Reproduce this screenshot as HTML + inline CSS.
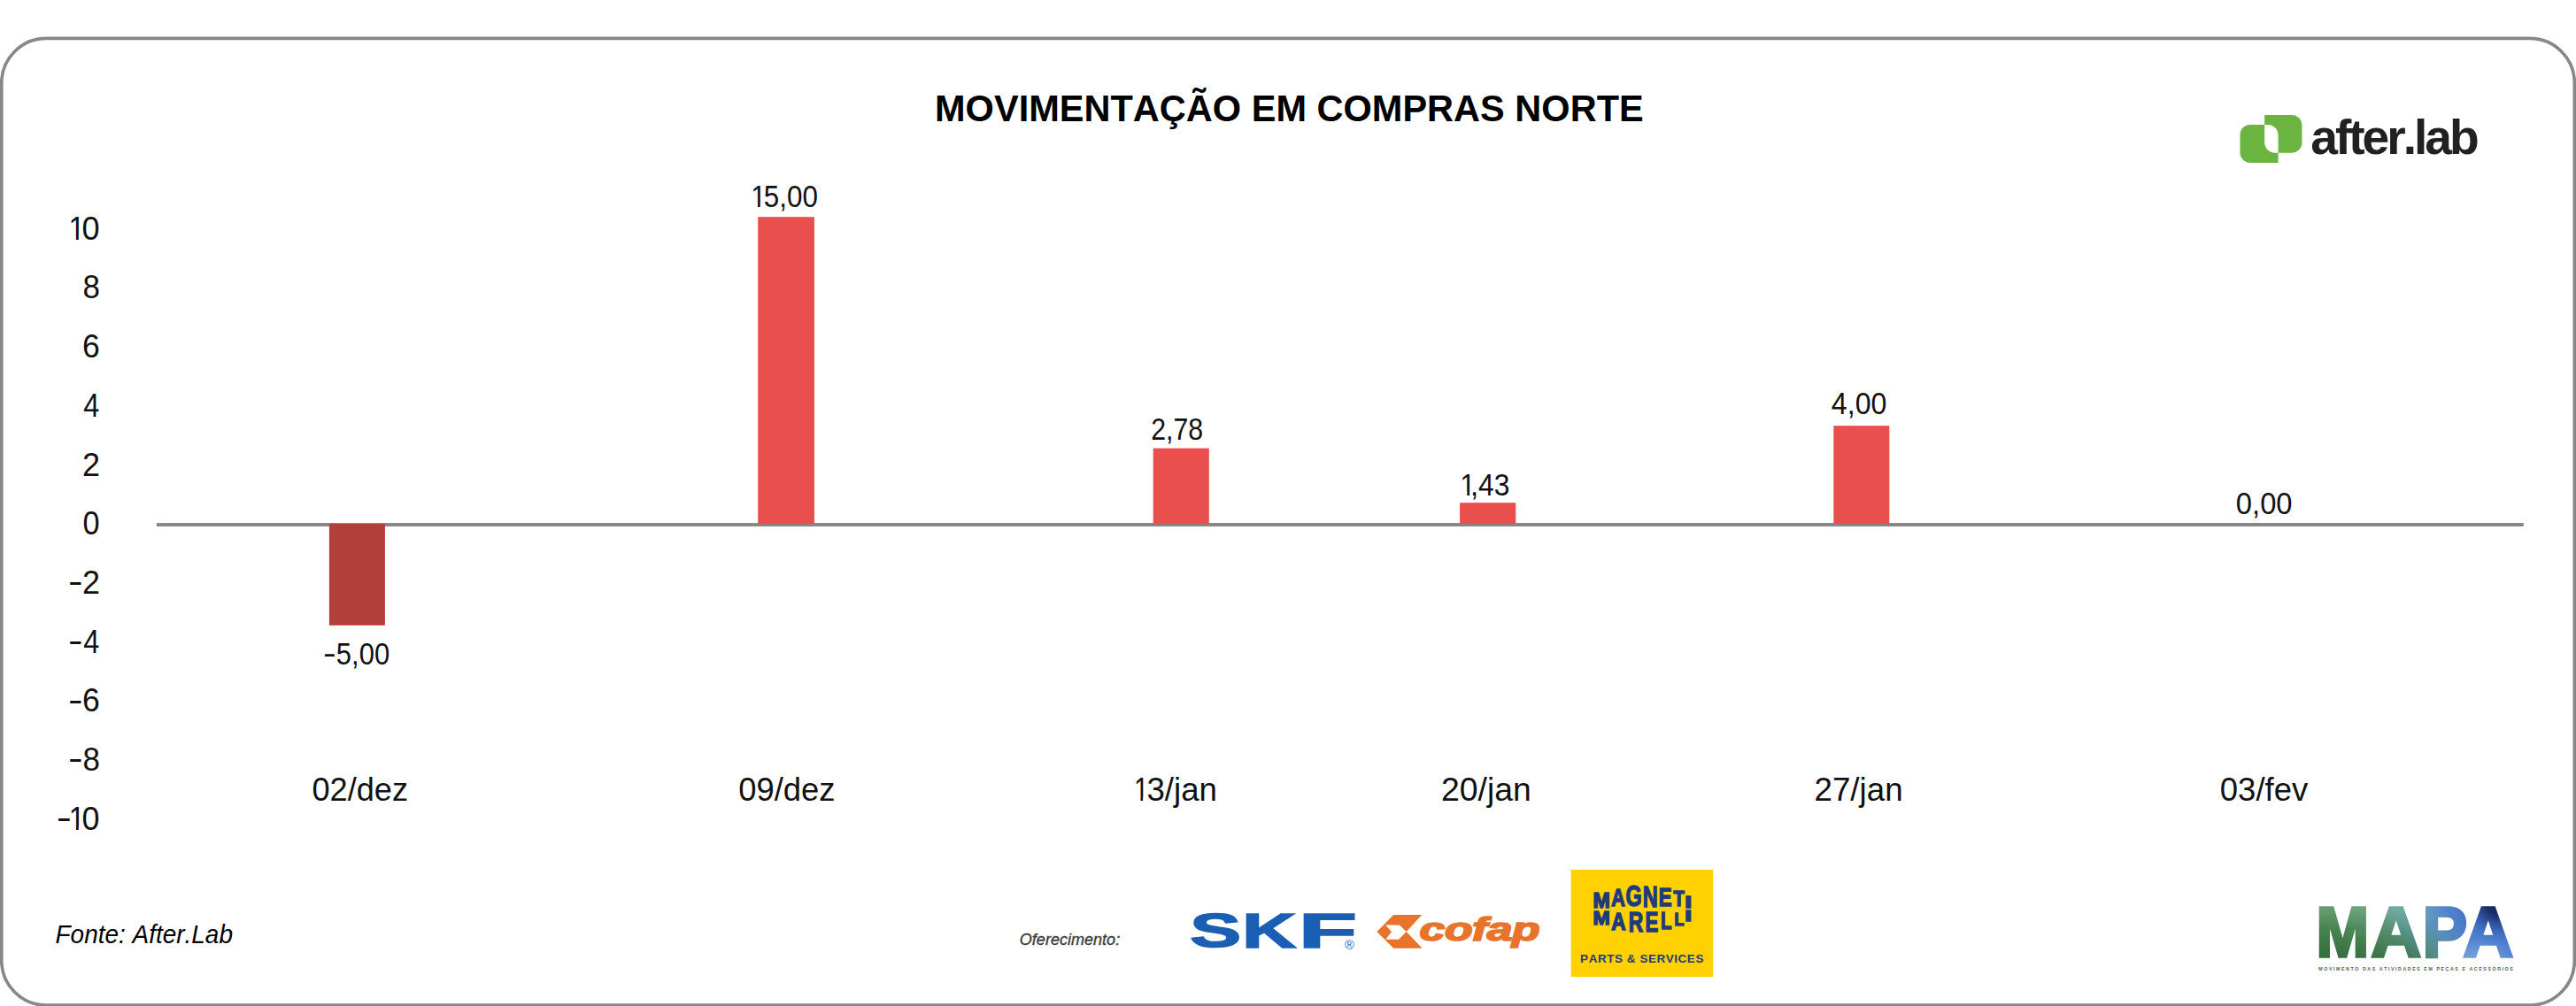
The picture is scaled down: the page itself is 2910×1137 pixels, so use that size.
<!DOCTYPE html>
<html lang="pt-BR">
<head>
<meta charset="utf-8">
<title>Movimentação em Compras Norte</title>
<style>
html,body{margin:0;padding:0;background:#fff;}
body{width:2910px;height:1137px;overflow:hidden;}
svg{display:block;}
svg text{font-family:"Liberation Sans",sans-serif;font-kerning:none;white-space:pre;}
</style>
</head>
<body>
<svg width="2910" height="1137" viewBox="0 0 2910 1137">

<rect x="1.75" y="43.4" width="2906.6" height="1092.7" rx="50.5" ry="50.5" fill="#fff" stroke="#878787" stroke-width="3.7"/>
<text transform="translate(1056.02 136.70) scale(0.9754 1)" font-size="42.60" font-weight="bold" font-style="normal" fill="#000">MOVIMENTAÇÃO EM COMPRAS NORTE</text>
<text font-size="37.10" fill="#111"><tspan x="77.50" y="270.80" textLength="18.49" lengthAdjust="spacingAndGlyphs">1</tspan><tspan x="92.59" y="270.80" textLength="20.13" lengthAdjust="spacingAndGlyphs">0</tspan></text><rect x="79.43" y="267.33" width="6.43" height="4.17" fill="#fff"/><rect x="88.80" y="267.33" width="6.20" height="4.17" fill="#fff"/>
<text font-size="37.10" fill="#111"><tspan x="93.38" y="337.48" textLength="19.44" lengthAdjust="spacingAndGlyphs">8</tspan></text>
<text font-size="37.10" fill="#111"><tspan x="93.10" y="404.16" textLength="19.77" lengthAdjust="spacingAndGlyphs">6</tspan></text>
<text font-size="37.10" fill="#111"><tspan x="94.15" y="470.84" textLength="18.10" lengthAdjust="spacingAndGlyphs">4</tspan></text>
<text font-size="37.10" fill="#111"><tspan x="93.09" y="537.52" textLength="20.02" lengthAdjust="spacingAndGlyphs">2</tspan></text>
<text font-size="37.10" fill="#111"><tspan x="93.56" y="604.20" textLength="19.08" lengthAdjust="spacingAndGlyphs">0</tspan></text>
<text font-size="37.10" fill="#111"><tspan x="76.98" y="669.38" textLength="16.64" lengthAdjust="spacingAndGlyphs">-</tspan><tspan x="93.09" y="670.88" textLength="20.02" lengthAdjust="spacingAndGlyphs">2</tspan></text>
<text font-size="37.10" fill="#111"><tspan x="76.98" y="736.06" textLength="16.64" lengthAdjust="spacingAndGlyphs">-</tspan><tspan x="94.15" y="737.56" textLength="18.10" lengthAdjust="spacingAndGlyphs">4</tspan></text>
<text font-size="37.10" fill="#111"><tspan x="76.98" y="802.74" textLength="16.64" lengthAdjust="spacingAndGlyphs">-</tspan><tspan x="93.10" y="804.24" textLength="19.77" lengthAdjust="spacingAndGlyphs">6</tspan></text>
<text font-size="37.10" fill="#111"><tspan x="76.98" y="869.42" textLength="16.64" lengthAdjust="spacingAndGlyphs">-</tspan><tspan x="93.38" y="870.92" textLength="19.44" lengthAdjust="spacingAndGlyphs">8</tspan></text>
<text font-size="37.10" fill="#111"><tspan x="63.71" y="936.10" textLength="17.19" lengthAdjust="spacingAndGlyphs">-</tspan><tspan x="77.64" y="937.60" textLength="18.26" lengthAdjust="spacingAndGlyphs">1</tspan><tspan x="92.59" y="937.60" textLength="20.01" lengthAdjust="spacingAndGlyphs">0</tspan></text><rect x="79.54" y="934.13" width="6.36" height="4.17" fill="#fff"/><rect x="88.80" y="934.13" width="6.20" height="4.17" fill="#fff"/>
<rect x="176.9" y="591.05" width="2673.9" height="3.95" fill="#878787"/>
<rect x="371.9" y="592" width="63" height="114.8" fill="#B33F3B"/>
<rect x="856.20" y="245.20" width="63.75" height="347.00" fill="#E9504D"/>
<rect x="1302.70" y="506.60" width="63.10" height="85.60" fill="#E9504D"/>
<rect x="1649.10" y="568.20" width="63.20" height="24.00" fill="#E9504D"/>
<rect x="2071.30" y="481.20" width="63.00" height="111.00" fill="#E9504D"/>
<text font-size="34.50" fill="#111"><tspan x="365.03" y="749.50" textLength="14.73" lengthAdjust="spacingAndGlyphs">-</tspan><tspan x="379.86" y="750.80" textLength="60.35" lengthAdjust="spacingAndGlyphs">5,00</tspan></text>
<text font-size="34.50" fill="#111"><tspan x="848.24" y="234.00" textLength="17.12" lengthAdjust="spacingAndGlyphs">1</tspan><tspan x="862.84" y="234.00" textLength="61.19" lengthAdjust="spacingAndGlyphs">5,00</tspan></text><rect x="849.98" y="230.72" width="6.00" height="3.98" fill="#fff"/><rect x="858.70" y="230.72" width="5.76" height="3.98" fill="#fff"/>
<text transform="translate(1300.18 497.40) scale(0.8778 1)" font-size="34.50" font-weight="normal" font-style="normal" fill="#111">2,78</text>
<text font-size="34.50" fill="#111"><tspan x="1649.36" y="559.60" textLength="17.58" lengthAdjust="spacingAndGlyphs">1</tspan><tspan x="1661.24" y="559.60" textLength="44.26" lengthAdjust="spacingAndGlyphs">,43</tspan></text><rect x="1651.17" y="556.32" width="6.14" height="3.98" fill="#fff"/><rect x="1660.10" y="556.32" width="3.80" height="3.98" fill="#fff"/>
<text transform="translate(2068.86 468.30) scale(0.9322 1)" font-size="34.50" font-weight="normal" font-style="normal" fill="#111">4,00</text>
<text transform="translate(2525.82 580.50) scale(0.9495 1)" font-size="34.50" font-weight="normal" font-style="normal" fill="#111">0,00</text>
<text transform="translate(352.49 904.90) scale(0.9751 1)" font-size="37.10" font-weight="normal" font-style="normal" fill="#111">02/dez</text>
<text transform="translate(834.18 904.90) scale(0.9816 1)" font-size="37.10" font-weight="normal" font-style="normal" fill="#111">09/dez</text>
<text font-size="37.10" fill="#111"><tspan x="1280.92" y="904.90" textLength="16.66" lengthAdjust="spacingAndGlyphs">1</tspan><tspan x="1295.40" y="904.90" textLength="79.58" lengthAdjust="spacingAndGlyphs">3/jan</tspan></text><rect x="1282.60" y="901.43" width="5.85" height="4.17" fill="#fff"/><rect x="1291.10" y="901.43" width="5.62" height="4.17" fill="#fff"/>
<text transform="translate(1627.92 904.90) scale(1.0082 1)" font-size="37.10" font-weight="normal" font-style="normal" fill="#111">20/jan</text>
<text transform="translate(2049.55 904.90) scale(0.9896 1)" font-size="37.10" font-weight="normal" font-style="normal" fill="#111">27/jan</text>
<text transform="translate(2507.77 904.90) scale(0.9850 1)" font-size="37.10" font-weight="normal" font-style="normal" fill="#111">03/fev</text>
<text transform="translate(62.54 1066.20) scale(0.9642 1)" font-size="29.00" font-weight="normal" font-style="italic" fill="#000">Fonte: After.Lab</text>
<path d="M2558.2 129.9H2588.9A11.5 11.5 0 0 1 2600.4 141.4V161.2A11.5 11.5 0 0 1 2588.9 172.7H2558.2Z" fill="#6AB43F"/>
<path d="M2573.6 183.9H2542.0A11.5 11.5 0 0 1 2530.5 172.4V152.5A11.5 11.5 0 0 1 2542.0 141H2573.6Z" fill="#6AB43F"/>
<path d="M2558.2 141H2562A11.6 11.6 0 0 1 2573.6 152.6V172.7H2569.8A11.6 11.6 0 0 1 2558.2 161.1Z" fill="#fff"/>
<text transform="translate(2610.28 174.00) scale(1.0033 1)" font-size="55.00" font-weight="bold" font-style="normal" fill="#212121" letter-spacing="-3.025">after.lab</text>
<text transform="translate(1151.82 1068.10) scale(0.9813 1)" font-size="18.40" font-weight="normal" font-style="italic" fill="#3c3c3c" stroke="#3c3c3c" stroke-width="0.35">Oferecimento:</text>
<text font-weight="bold" font-style="normal" fill="#1A5FB4" stroke="#1A5FB4" stroke-width="1.6" stroke-linejoin="miter"><tspan x="1344.36" y="1070.34" font-size="53.59" textLength="57.83" lengthAdjust="spacingAndGlyphs">S</tspan><tspan x="1403.29" y="1070.87" font-size="55.14" textLength="60.93" lengthAdjust="spacingAndGlyphs">K</tspan><tspan x="1467.05" y="1070.87" font-size="55.14" textLength="65.94" lengthAdjust="spacingAndGlyphs">F</tspan></text>
<text x="1518.98" y="1072.79" font-size="14.45" fill="#1A5FB4">®</text>
<path d="M1555.4 1052.9L1574.2 1034.1H1606.2L1588.7 1052.9L1606.6 1071.7H1574.2Z" fill="#E8732B"/>
<path d="M1565.2 1045.4H1581L1588.7 1052.9L1580.1 1061.8H1565.2L1572 1053.3Z" fill="#fff"/>
<text transform="translate(1603.61 1063.00) scale(1.4308 1)" font-size="36.20" font-weight="bold" font-style="italic" fill="#E8732B" letter-spacing="-0.362" stroke="#E8732B" stroke-width="1.7">cofap</text>
<rect x="1774.7" y="983" width="160.5" height="121" fill="#FFD100"/>
<text font-weight="bold" font-style="normal" fill="#1F3B7E" stroke="#1F3B7E" stroke-width="1.5" stroke-linejoin="miter"><tspan x="1799.53" y="1026.08" font-size="23.28" textLength="19.24" lengthAdjust="spacingAndGlyphs">M</tspan><tspan x="1820.18" y="1024.02" font-size="28.02" textLength="15.59" lengthAdjust="spacingAndGlyphs">A</tspan><tspan x="1836.41" y="1024.43" font-size="32.97" textLength="18.23" lengthAdjust="spacingAndGlyphs">G</tspan><tspan x="1855.78" y="1024.55" font-size="32.67" textLength="16.97" lengthAdjust="spacingAndGlyphs">N</tspan><tspan x="1873.84" y="1024.22" font-size="29.28" textLength="14.84" lengthAdjust="spacingAndGlyphs">E</tspan><tspan x="1890.42" y="1023.89" font-size="23.47" textLength="12.26" lengthAdjust="spacingAndGlyphs">T</tspan><tspan x="1903.52" y="1025.89" font-size="17.66" textLength="7.38" lengthAdjust="spacingAndGlyphs">I</tspan></text>
<text font-weight="bold" font-style="normal" fill="#1F3B7E" stroke="#1F3B7E" stroke-width="1.5" stroke-linejoin="miter"><tspan x="1799.53" y="1044.87" font-size="22.50" textLength="19.24" lengthAdjust="spacingAndGlyphs">M</tspan><tspan x="1820.16" y="1050.86" font-size="27.83" textLength="16.31" lengthAdjust="spacingAndGlyphs">A</tspan><tspan x="1839.84" y="1052.86" font-size="30.73" textLength="16.48" lengthAdjust="spacingAndGlyphs">R</tspan><tspan x="1858.53" y="1052.86" font-size="30.73" textLength="14.84" lengthAdjust="spacingAndGlyphs">E</tspan><tspan x="1875.96" y="1050.19" font-size="26.86" textLength="12.48" lengthAdjust="spacingAndGlyphs">L</tspan><tspan x="1891.45" y="1045.87" font-size="20.57" textLength="10.90" lengthAdjust="spacingAndGlyphs">L</tspan><tspan x="1903.52" y="1040.87" font-size="17.18" textLength="7.38" lengthAdjust="spacingAndGlyphs">I</tspan></text>
<text transform="translate(1785.10 1088.30) scale(1.0719 1)" font-size="12.60" font-weight="bold" font-style="normal" fill="#1F3B7E" letter-spacing="0.504">PARTS &amp; SERVICES</text>
<defs>
<linearGradient id="mapaH" x1="0" y1="0.62" x2="1" y2="0.38">
<stop offset="0" stop-color="#44804B"/><stop offset="0.20" stop-color="#4A8755"/><stop offset="0.36" stop-color="#538F6C"/>
<stop offset="0.50" stop-color="#5B9694"/><stop offset="0.60" stop-color="#5A90B8"/><stop offset="0.72" stop-color="#4C7FCB"/>
<stop offset="0.86" stop-color="#4A7ACB"/><stop offset="1" stop-color="#5585D3"/>
</linearGradient>
<linearGradient id="mapaV" x1="0" y1="0" x2="0" y2="1">
<stop offset="0.05" stop-color="#d8efda" stop-opacity="0.26"/><stop offset="0.45" stop-color="#d8efda" stop-opacity="0"/><stop offset="0.45" stop-color="#0a2a12" stop-opacity="0"/><stop offset="1" stop-color="#0a2a12" stop-opacity="0.30"/>
</linearGradient>
<linearGradient id="mapaVm" x1="0" y1="0" x2="1" y2="0">
<stop offset="0" stop-color="#fff"/><stop offset="0.45" stop-color="#fff"/><stop offset="0.7" stop-color="#000"/>
</linearGradient>
<mask id="mapaLeft" maskContentUnits="objectBoundingBox"><rect x="0" y="0" width="1" height="1" fill="url(#mapaVm)"/></mask>
<radialGradient id="mapaD" cx="0.93" cy="0.02" r="0.62" gradientTransform="translate(0.93 0.02) scale(0.42 1) translate(-0.93 -0.02)">
<stop offset="0" stop-color="#0E1840" stop-opacity="1"/><stop offset="0.40" stop-color="#16275F" stop-opacity="0.92"/><stop offset="0.75" stop-color="#2A4CA3" stop-opacity="0.45"/><stop offset="1" stop-color="#3F6DC8" stop-opacity="0"/>
</radialGradient>
<radialGradient id="mapaL" cx="0.80" cy="1.0" r="0.45" gradientTransform="translate(0.80 1) scale(0.5 1) translate(-0.80 -1)">
<stop offset="0" stop-color="#8DB8EE" stop-opacity="0.75"/><stop offset="1" stop-color="#8DB8EE" stop-opacity="0"/>
</radialGradient>
<pattern id="mapaP" patternUnits="userSpaceOnUse" x="2612" y="1018" width="236" height="72">
<rect x="0" y="0" width="236" height="72" fill="url(#mapaH)"/>
<rect x="0" y="0" width="236" height="72" fill="url(#mapaV)" mask="url(#mapaLeft)"/>
<rect x="0" y="0" width="236" height="72" fill="url(#mapaL)"/>
<rect x="0" y="0" width="236" height="72" fill="url(#mapaD)"/>
</pattern>
</defs>
<text font-weight="bold" font-style="normal" fill="url(#mapaP)" stroke="url(#mapaP)" stroke-width="3.4" stroke-linejoin="miter"><tspan x="2616.59" y="1081.47" font-size="79.41" textLength="59.68" lengthAdjust="spacingAndGlyphs">M</tspan><tspan x="2678.47" y="1081.47" font-size="79.41" textLength="56.64" lengthAdjust="spacingAndGlyphs">A</tspan><tspan x="2736.40" y="1081.47" font-size="79.41" textLength="50.71" lengthAdjust="spacingAndGlyphs">P</tspan><tspan x="2782.43" y="1081.47" font-size="79.41" textLength="56.64" lengthAdjust="spacingAndGlyphs">A</tspan></text>
<text transform="translate(2619.35 1097.10) scale(0.8907 1)" font-size="5.90" font-weight="bold" font-style="normal" fill="#5a5a5a" letter-spacing="1.770">MOVIMENTO DAS ATIVIDADES EM PEÇAS E ACESSÓRIOS</text>
</svg>
</body>
</html>
